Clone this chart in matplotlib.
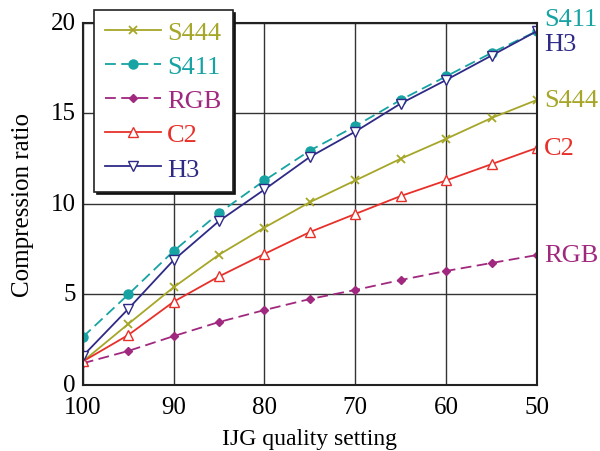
import matplotlib
matplotlib.use("Agg")
import matplotlib.pyplot as plt
import matplotlib.transforms as mtransforms

plt.rcParams['font.family'] = ['Liberation Serif', 'DejaVu Serif']

quality = [100, 95, 90, 85, 80, 75, 70, 65, 60, 55, 50]

s444 = [1.3, 3.37, 5.4, 7.2, 8.7, 10.1, 11.3, 12.5, 13.6, 14.75, 15.75]
s411 = [2.65, 5.0, 7.4, 9.5, 11.3, 12.95, 14.3, 15.75, 17.05, 18.35, 19.55]
rgb = [1.2, 1.88, 2.7, 3.48, 4.14, 4.75, 5.25, 5.8, 6.3, 6.74, 7.18]
c2 = [1.3, 2.76, 4.6, 6.0, 7.24, 8.45, 9.45, 10.44, 11.3, 12.2, 13.1]
h3 = [1.6, 4.2, 6.9, 9.06, 10.8, 12.6, 14.0, 15.55, 16.85, 18.2, 19.55]

series_names = ['S444', 'S411', 'RGB', 'C2', 'H3']
colors = {'S444': '#A6A628', 'S411': '#17A3A3', 'RGB': '#A0287E',
          'C2': '#E8302A', 'H3': '#2E2A86'}

x_ticks = [100, 90, 80, 70, 60, 50]
y_ticks = [0, 5, 10, 15, 20]

fig = plt.figure(figsize=(6.0, 4.52), dpi=100)
ax = fig.add_axes([0.138, 0.146, 0.757, 0.801])

lines = []
lines.append(ax.plot(quality, s444, color=colors['S444'], lw=1.3, marker='x',
                     ms=6, mew=1.3, label='S444')[0])
lines.append(ax.plot(quality, s411, color=colors['S411'], lw=1.3, ls=(0, (6, 3)),
                     marker='o', ms=6.5, label='S411')[0])
lines.append(ax.plot(quality, rgb, color=colors['RGB'], lw=1.3, ls=(0, (6, 3)),
                     marker='D', ms=4, label='RGB')[0])
lines.append(ax.plot(quality, c2, color=colors['C2'], lw=1.3, marker='^', ms=6.5,
                     mfc='white', mew=1.0, label='C2')[0])
lines.append(ax.plot(quality, h3, color=colors['H3'], lw=1.3, marker='v', ms=6.5,
                     mfc='white', mew=1.0, label='H3')[0])

ax.set_xlim(100, 50)
ax.set_ylim(0, 20)
ax.set_xticks(x_ticks)
ax.set_yticks(y_ticks)
ax.tick_params(labelsize=18, direction='in', length=0)
ax.tick_params(axis='x', pad=8)
ax.tick_params(axis='y', pad=5)
ax.grid(True, color='#333333', lw=1.0)
ax.set_axisbelow(True)
for sp in ax.spines.values():
    sp.set_linewidth(1.5)
    sp.set_color('#222222')

# nudge y tick labels up slightly
shift_up = mtransforms.ScaledTranslation(0, 2 / 72, fig.dpi_scale_trans)
for lbl in ax.get_yticklabels():
    lbl.set_transform(lbl.get_transform() + shift_up)

ax.set_xlabel('IJG quality setting', fontsize=17, labelpad=7)
ax.set_ylabel('Compression ratio', fontsize=18, labelpad=12)

# end-of-line labels at quality 50
end_vals = {'S411': s411[-1], 'H3': h3[-1], 'S444': s444[-1], 'C2': c2[-1], 'RGB': rgb[-1]}
offsets = {'S411': 9, 'H3': -9, 'S444': 0, 'C2': 0, 'RGB': 0}
for name in ['S411', 'H3', 'S444', 'C2', 'RGB']:
    ax.annotate(name, xy=(50, end_vals[name]), xytext=(5, offsets[name]),
                textcoords='offset points', va='center', ha='left',
                fontsize=19, color=colors[name], annotation_clip=False)

leg = fig.legend(handles=lines, loc='upper left', bbox_to_anchor=(0.157, 0.976),
                 fontsize=19, frameon=True, fancybox=False,
                 shadow={'color': '#111111', 'alpha': 1.0},
                 handlelength=2.1, handletextpad=0.25, labelspacing=0.4,
                 borderpad=0.42, borderaxespad=0)
leg.get_frame().set_edgecolor('#222222')
leg.get_frame().set_linewidth(1.2)
for txt, name in zip(leg.get_texts(), series_names):
    txt.set_color(colors[name])

fig.savefig('out.png', dpi=100)
